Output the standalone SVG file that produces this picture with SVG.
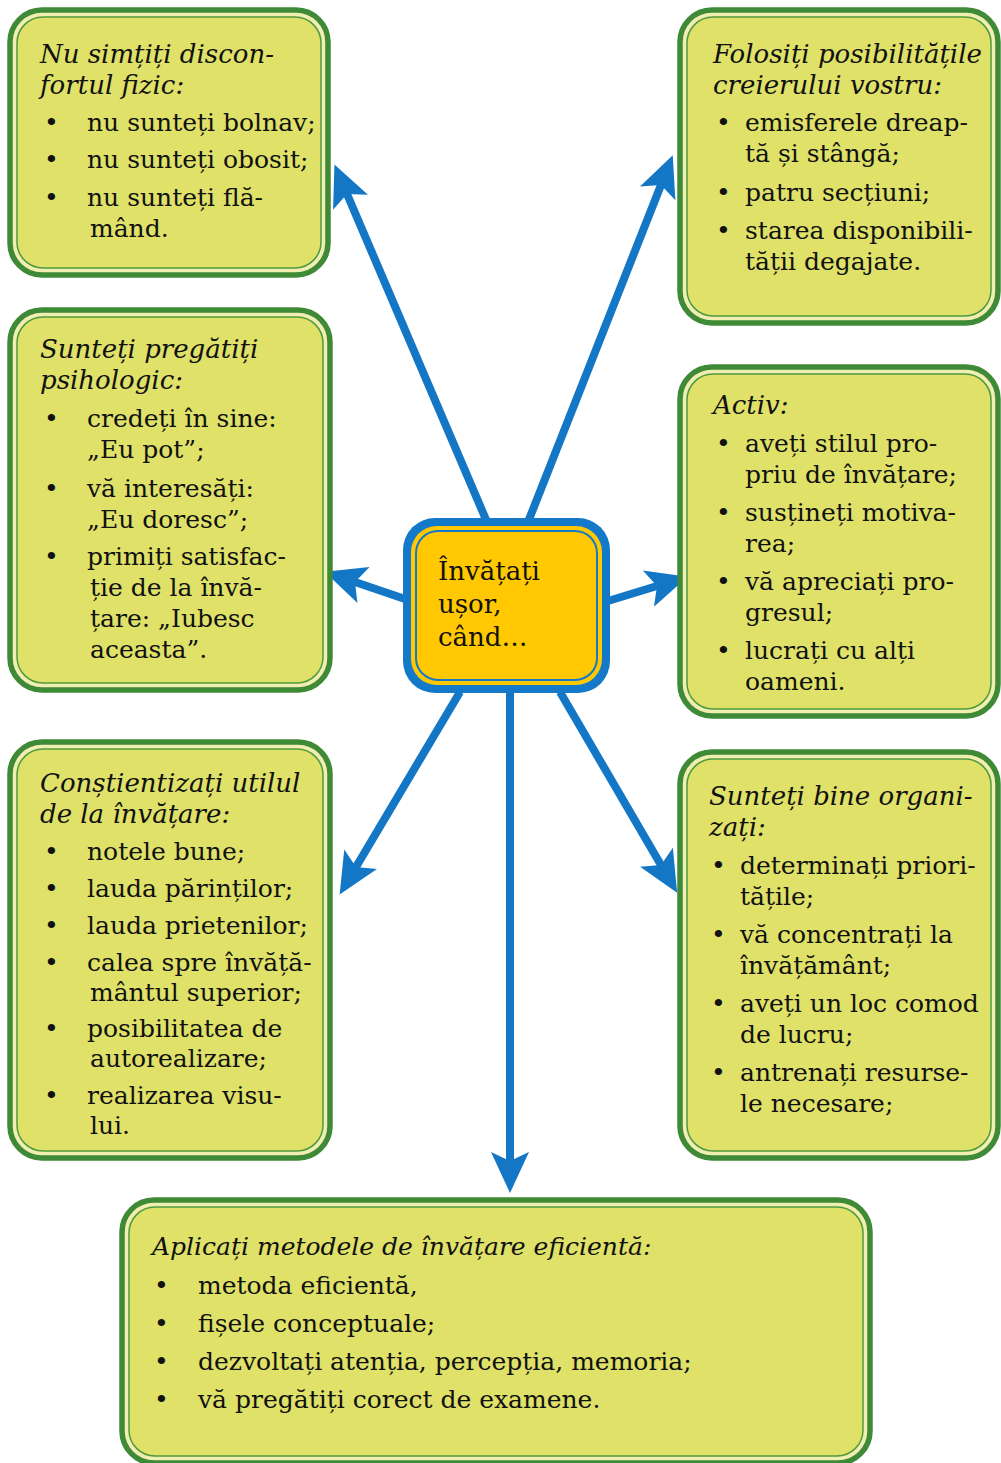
<svg xmlns="http://www.w3.org/2000/svg" width="1001" height="1463" viewBox="0 0 1001 1463">
<style>
.o{fill:#f0eeb0;stroke:#3f8a36;stroke-width:5.5}
.i{fill:#dfe168;stroke:#4f9a3e;stroke-width:1.5}
text{font-family:"DejaVu Serif","Liberation Serif",serif;font-size:25px;fill:#111}
.t{font-style:italic;font-size:26px}
.c{stroke:#1477c6;stroke-width:8;fill:none;marker-end:url(#ah)}
</style>
<defs>
<marker id="ah" viewBox="-12 -24 50 48" refX="0" refY="0" markerWidth="50" markerHeight="48" markerUnits="userSpaceOnUse" orient="auto">
<path d="M32,0 L-9,-19 L0,0 L-9,19 Z" fill="#1477c6"/>
</marker>
</defs>
<rect width="1001" height="1463" fill="#fff"/>
<g id="connectors">
<line class="c" x1="487" y1="522" x2="347" y2="194"/>
<line class="c" x1="528" y1="522" x2="661" y2="185"/>
<line class="c" x1="405" y1="599" x2="355" y2="582"/>
<line class="c" x1="608" y1="601" x2="657" y2="586"/>
<line class="c" x1="460" y1="692" x2="356" y2="867"/>
<line class="c" x1="560" y1="692" x2="661" y2="865"/>
<line class="c" x1="510" y1="692" x2="510" y2="1161"/>
</g>
<g id="center">
<rect x="403" y="518" width="207" height="175" rx="32" fill="#1479c8"/>
<rect x="411" y="526" width="191" height="159" rx="26" fill="#ffc800"/>
<rect x="416" y="531" width="181" height="149" rx="22" fill="none" stroke="#1479c8" stroke-width="2"/>
<text x="438" y="580" style="font-size:26px">Învățați</text>
<text x="438" y="613" style="font-size:26px">ușor,</text>
<text x="438" y="646" style="font-size:26px">când…</text>
</g>
<g id="box1">
<rect class="o" x="10" y="10" width="318" height="265" rx="32"/>
<rect class="i" x="17" y="17" width="304" height="251" rx="26"/>
<text class="t" x="40" y="63">Nu simțiți discon-</text>
<text class="t" x="40" y="94">fortul fizic:</text>
<text x="44" y="131">•</text><text x="87" y="131">nu sunteți bolnav;</text>
<text x="44" y="168">•</text><text x="87" y="168">nu sunteți obosit;</text>
<text x="44" y="206">•</text><text x="87" y="206">nu sunteți flă-</text>
<text x="90" y="237">mând.</text>
</g>
<g id="box2">
<rect class="o" x="680" y="10" width="318" height="313" rx="32"/>
<rect class="i" x="687" y="17" width="304" height="299" rx="26"/>
<text class="t" x="713" y="63">Folosiți posibilitățile</text>
<text class="t" x="713" y="94">creierului vostru:</text>
<text x="716" y="131">•</text><text x="745" y="131">emisferele dreap-</text>
<text x="745" y="162">tă și stângă;</text>
<text x="716" y="201">•</text><text x="745" y="201">patru secțiuni;</text>
<text x="716" y="239">•</text><text x="745" y="239">starea disponibili-</text>
<text x="745" y="270">tății degajate.</text>
</g>
<g id="box3">
<rect class="o" x="10" y="310" width="320" height="380" rx="32"/>
<rect class="i" x="17" y="317" width="306" height="366" rx="26"/>
<text class="t" x="40" y="358">Sunteți pregătiți</text>
<text class="t" x="40" y="389">psihologic:</text>
<text x="44" y="427">•</text><text x="87" y="427">credeți în sine:</text>
<text x="87" y="458">„Eu pot”;</text>
<text x="44" y="497">•</text><text x="87" y="497">vă interesăți:</text>
<text x="87" y="528">„Eu doresc”;</text>
<text x="44" y="565">•</text><text x="87" y="565">primiți satisfac-</text>
<text x="90" y="596">ție  de la învă-</text>
<text x="90" y="627">țare: „Iubesc</text>
<text x="90" y="658">aceasta”.</text>
</g>
<g id="box4">
<rect class="o" x="680" y="367" width="318" height="349" rx="32"/>
<rect class="i" x="687" y="374" width="304" height="335" rx="26"/>
<text class="t" x="713" y="414">Activ:</text>
<text x="716" y="452">•</text><text x="745" y="452">aveți stilul pro-</text>
<text x="745" y="483">priu de învățare;</text>
<text x="716" y="521">•</text><text x="745" y="521">susțineți motiva-</text>
<text x="745" y="552">rea;</text>
<text x="716" y="590">•</text><text x="745" y="590">vă apreciați pro-</text>
<text x="745" y="621">gresul;</text>
<text x="716" y="659">•</text><text x="745" y="659">lucrați cu alți</text>
<text x="745" y="690">oameni.</text>
</g>
<g id="box5">
<rect class="o" x="10" y="742" width="320" height="416" rx="32"/>
<rect class="i" x="17" y="749" width="306" height="402" rx="26"/>
<text class="t" x="40" y="792">Conștientizați utilul</text>
<text class="t" x="40" y="823">de la învățare:</text>
<text x="44" y="860">•</text><text x="87" y="860">notele bune;</text>
<text x="44" y="897">•</text><text x="87" y="897">lauda părinților;</text>
<text x="44" y="934">•</text><text x="87" y="934">lauda prietenilor;</text>
<text x="44" y="971">•</text><text x="87" y="971">calea spre învăță-</text>
<text x="90" y="1001">mântul superior;</text>
<text x="44" y="1037">•</text><text x="87" y="1037">posibilitatea de</text>
<text x="90" y="1067">autorealizare;</text>
<text x="44" y="1104">•</text><text x="87" y="1104">realizarea visu-</text>
<text x="90" y="1134">lui.</text>
</g>
<g id="box6">
<rect class="o" x="680" y="752" width="318" height="406" rx="32"/>
<rect class="i" x="687" y="759" width="304" height="392" rx="26"/>
<text class="t" x="709" y="805">Sunteți bine organi-</text>
<text class="t" x="709" y="836">zați:</text>
<text x="711" y="874">•</text><text x="740" y="874">determinați priori-</text>
<text x="740" y="905">tățile;</text>
<text x="711" y="943">•</text><text x="740" y="943">vă concentrați la</text>
<text x="740" y="974">învățământ;</text>
<text x="711" y="1012">•</text><text x="740" y="1012">aveți un loc comod</text>
<text x="740" y="1043">de lucru;</text>
<text x="711" y="1081">•</text><text x="740" y="1081">antrenați resurse-</text>
<text x="740" y="1112">le necesare;</text>
</g>
<g id="box7">
<rect class="o" x="122" y="1200" width="748" height="263" rx="32"/>
<rect class="i" x="129" y="1207" width="734" height="249" rx="26"/>
<text class="t" x="152" y="1255" style="font-size:25px">Aplicați metodele de învățare eficientă:</text>
<text x="154" y="1294">•</text><text x="198" y="1294">metoda eficientă,</text>
<text x="154" y="1332">•</text><text x="198" y="1332">fișele conceptuale;</text>
<text x="154" y="1370">•</text><text x="198" y="1370">dezvoltați atenția, percepția, memoria;</text>
<text x="154" y="1408">•</text><text x="198" y="1408">vă pregătiți corect de examene.</text>
</g>
</svg>
